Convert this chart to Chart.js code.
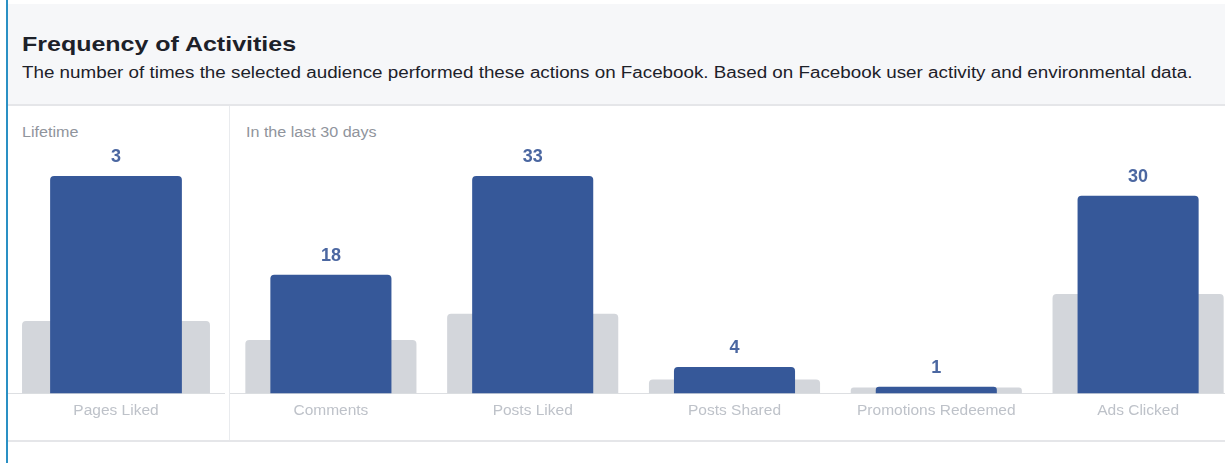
<!DOCTYPE html>
<html>
<head>
<meta charset="utf-8">
<script src="https://cdn.jsdelivr.net/npm/chart.js@4.4.0/dist/chart.umd.min.js"></script>
<style>
  body { margin: 0; width: 1225px; height: 463px; overflow: hidden; background: #fff; position: relative; font-family: "Liberation Sans", Arial, sans-serif; }
  .edge { position: absolute; left: 6px; top: 0; width: 2px; height: 463px; background: #2a90c4; }
  .header { position: absolute; left: 8px; top: 4px; width: 1217px; height: 100px; background: #f6f7f9; border-bottom: 2px solid #e5e6e9; }
  .title { position: absolute; left: 14px; top: 28px; font-size: 21px; font-weight: bold; color: #1d2129; white-space: nowrap; transform: scaleX(1.19); transform-origin: left center; }
  .subtitle { position: absolute; left: 14px; top: 60px; font-size: 16px; color: #1d2129; white-space: nowrap; transform: scaleX(1.175); transform-origin: left center; }
  .caption { position: absolute; top: 124px; font-size: 14px; color: #90949c; white-space: nowrap; transform: scaleX(1.15); transform-origin: left center; }
  .divider { position: absolute; left: 229px; top: 106px; width: 1px; height: 335px; background: #e9ebee; }
  .footer { position: absolute; left: 8px; top: 440px; width: 1217px; height: 2px; background: #e5e6e9; }
  canvas { position: absolute; top: 108px; }
</style>
</head>
<body>
<div class="edge"></div>
<div class="header">
  <div class="title">Frequency of Activities</div>
  <div class="subtitle">The number of times the selected audience performed these actions on Facebook. Based on Facebook user activity and environmental data.</div>
</div>
<div class="divider"></div>
<div class="footer"></div>
<div class="caption" style="left:22px">Lifetime</div>
<div class="caption" style="left:246px">In the last 30 days</div>
<canvas id="lifetimeChart" width="221" height="332" style="left:8px"></canvas>
<canvas id="recentChart" width="1009" height="332" style="left:230px"></canvas>
<script>
// Lifetime
const lifetimeLabels = ['Pages Liked'];
const lifetimeAudience = [3];
const lifetimeBenchmark = [1.0];

// In the last 30 days
const recentLabels = ['Comments', 'Posts Liked', 'Posts Shared', 'Promotions Redeemed', 'Ads Clicked'];
const recentAudience = [18, 33, 4, 1, 30];
const recentBenchmark = [8.1, 12.1, 2.1, 0.9, 15.1];

// numbers above the blue bars
const valueLabels = {
    id: 'valueLabels',
    afterDatasetsDraw(chart) {
        const c = chart.ctx;
        const meta = chart.getDatasetMeta(0);
        c.save();
        c.font = 'bold 18px "Liberation Sans", Arial, sans-serif';
        c.fillStyle = '#4b67a1';
        c.textAlign = 'center';
        c.textBaseline = 'middle';
        meta.data.forEach((bar, i) => {
            c.fillText(chart.data.datasets[0].data[i], bar.x, bar.y - 19);
        });
        c.restore();
    }
};

function makeChart(id, labels, audience, benchmark, blueWidth, grayWidth, rightPad) {
    const ctx = document.getElementById(id).getContext('2d');
    return new Chart(ctx, {
        type: 'bar',
        data: {
            labels: labels,
            datasets: [
                {
                    label: 'Audience',
                    data: audience,
                    backgroundColor: '#365899',
                    borderRadius: 4,
                    borderSkipped: 'start',
                    grouped: false,
                    barPercentage: blueWidth,
                    categoryPercentage: 1
                },
                {
                    label: 'Benchmark',
                    data: benchmark,
                    backgroundColor: '#d3d6db',
                    borderRadius: 4,
                    borderSkipped: 'start',
                    grouped: false,
                    barPercentage: grayWidth,
                    categoryPercentage: 1
                }
            ]
        },
        options: {
            responsive: false,
            animation: false,
            devicePixelRatio: 1,
            layout: { padding: { top: 68, bottom: 12, left: 0, right: rightPad } },
            plugins: { legend: { display: false }, tooltip: { enabled: false } },
            scales: {
                x: {
                    grid: { display: false, drawTicks: false },
                    border: { display: true, color: '#dddfe2', width: 1 },
                    ticks: {
                        color: '#bec2c9',
                        padding: 8,
                        font: { family: '"Liberation Sans", Arial, sans-serif', size: 15.5 }
                    }
                },
                y: {
                    display: false,
                    min: 0,
                    max: Math.max(...audience)
                }
            }
        },
        plugins: [valueLabels]
    });
}

makeChart('lifetimeChart', lifetimeLabels, lifetimeAudience, lifetimeBenchmark, 0.61, 0.87, 5);
makeChart('recentChart', recentLabels, recentAudience, recentBenchmark, 0.6, 0.848, 0);
</script>
</body>
</html>
